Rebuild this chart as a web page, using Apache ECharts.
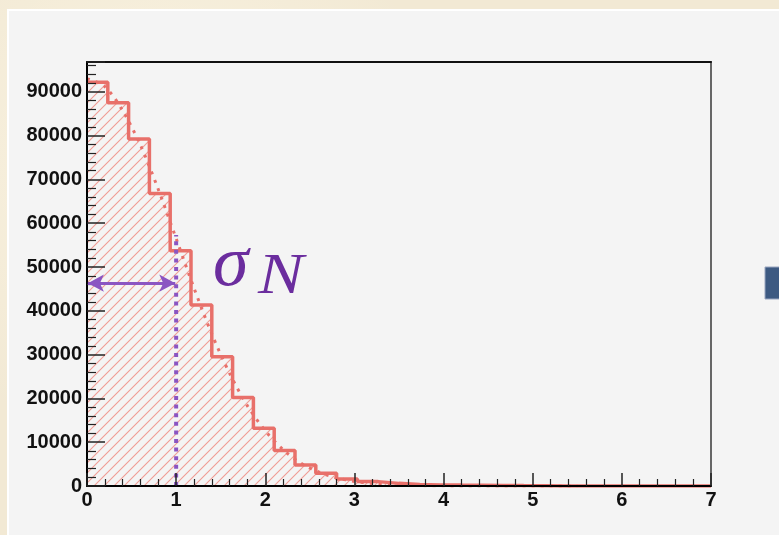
<!DOCTYPE html>
<html>
<head>
<meta charset="utf-8">
<script src="https://cdn.jsdelivr.net/npm/echarts@6/dist/echarts.min.js"></script>
<style>
  html, body { margin: 0; padding: 0; }
  body {
    width: 779px; height: 535px; overflow: hidden;
    background-color: #f2e9d4;
    background-image:
      radial-gradient(circle at 20% 30%, rgba(255,250,235,0.6) 0, rgba(255,250,235,0) 40%),
      radial-gradient(circle at 70% 80%, rgba(230,218,190,0.5) 0, rgba(230,218,190,0) 45%);
  }
  #chart { position: absolute; left: 0; top: 0; width: 779px; height: 535px; }
</style>
</head>
<body>
<div id="chart"></div>
<script>
// Histogram of |x| with 30 bins over [0, 7]
const binLow = 0;
const binHigh = 7;
const binCounts = [
  92200, 87500, 79200, 66800, 53700, 41300, 29500, 20200, 13200, 8100,
  4800, 2900, 1600, 1000, 600, 350, 250, 200, 160, 130,
  100, 80, 0, 0, 0, 0, 0, 0, 0, 0
];

// Fitted half-Gaussian, sampled along x
const fitX = [0, 0.2, 0.4, 0.6, 0.8, 1.0, 1.2, 1.4, 1.6, 1.8, 2.0, 2.2, 2.4, 2.6, 2.8,
              3.0, 3.2, 3.4, 3.6, 3.8, 4.0, 4.4, 4.8, 5.2, 5.5];
const fitY = [93000, 91200, 85700, 77800, 67700, 56500, 45200, 34700, 25700, 18300,
              12600, 8300, 5200, 3200, 1850, 1050, 560, 290, 140, 70, 30, 10, 0, 0, 0];

// Width marker: sigma at x = 1, arrow height
const sigmaX = 1;
const sigmaTop = 57300;
const arrowY = 46300;

const yTicks = [0, 10000, 20000, 30000, 40000, 50000, 60000, 70000, 80000, 90000];
const yMax = 96800;

// build the step-histogram points (left edge of each bin + closing point)
const binWidth = (binHigh - binLow) / binCounts.length;
const histPoints = binCounts.map((v, i) => [binLow + i * binWidth, v]);
histPoints.push([binHigh, binCounts[binCounts.length - 1]]);
const fitPoints = fitX.map((x, i) => [x, fitY[i]]);

// opaque diagonal hatch tile for the histogram fill
function hatchTile() {
  const c = document.createElement('canvas');
  c.width = 10; c.height = 10;
  const g = c.getContext('2d');
  g.fillStyle = '#f4f4f4';
  g.fillRect(0, 0, 10, 10);
  g.strokeStyle = '#f09c94';
  g.lineWidth = 1.1;
  g.beginPath();
  g.moveTo(-1, 11); g.lineTo(11, -1);
  g.moveTo(-6, 6); g.lineTo(6, -6);
  g.moveTo(4, 16); g.lineTo(16, 4);
  g.stroke();
  return c;
}

const red = '#e8706a';
const purple = '#8a55c2';
const labelFont = { fontFamily: 'Liberation Sans, Arial, sans-serif', fontWeight: 'bold', fontSize: 20, color: '#111' };

const chart = echarts.init(document.getElementById('chart'), null, { renderer: 'canvas' });
chart.setOption({
  animation: false,
  backgroundColor: 'transparent',
  grid: { left: 87, right: 68, top: 62, bottom: 49, containLabel: false },
  graphic: [
    { type: 'rect', z: -10, silent: true,
      shape: { x: 8, y: 10, width: 900, height: 700 },
      style: { fill: '#f4f4f4', stroke: '#ffffff', lineWidth: 2 } },
    { type: 'rect', z: -5, silent: true,
      shape: { x: 765, y: 267, width: 20, height: 32 },
      style: { fill: '#3d5a82', stroke: '#9aa6c0', lineWidth: 1 } },
    { type: 'text', z: 20, left: 213, top: 230,
      style: { text: 'σ', font: 'italic 72px "Liberation Serif", "DejaVu Serif", serif', fill: '#6b2d9e' } },
    { type: 'text', z: 20, x: 258, y: 249, scaleX: 1.18,
      style: { text: 'N', font: 'italic 58px "Liberation Serif", "DejaVu Serif", serif', fill: '#6b2d9e' } }
  ],
  xAxis: [
    {
      type: 'value', min: binLow, max: binHigh, interval: 1, z: 10,
      axisLine: { onZero: false, lineStyle: { color: '#000', width: 2 } },
      axisTick: { inside: true, length: 13, lineStyle: { color: '#222', width: 1.5 } },
      minorTick: { show: true, splitNumber: 5, length: 7, lineStyle: { color: '#222', width: 1.2 } },
      splitLine: { show: false },
      axisLabel: Object.assign({ margin: 4 }, labelFont)
    },
    {
      type: 'value', position: 'top', min: binLow, max: binHigh, z: 10,
      axisLine: { show: true, onZero: false, lineStyle: { color: '#111', width: 2 } },
      axisTick: { show: false }, axisLabel: { show: false }, splitLine: { show: false }
    }
  ],
  yAxis: [
    {
      type: 'value', min: 0, max: yMax, interval: 10000, z: 10,
      axisLine: { show: true, onZero: false, lineStyle: { color: '#000', width: 2 } },
      axisTick: { inside: true, length: 18, lineStyle: { color: '#222', width: 1.5 } },
      minorTick: { show: true, splitNumber: 5, length: 9, lineStyle: { color: '#222', width: 1.2 } },
      splitLine: { show: false },
      axisLabel: Object.assign({ margin: 5, showMaxLabel: false,
        formatter: v => (yTicks.indexOf(v) >= 0 ? String(v) : '') }, labelFont)
    },
    {
      type: 'value', position: 'right', min: 0, max: yMax, z: 10,
      axisLine: { show: true, onZero: false, lineStyle: { color: '#666', width: 2 } },
      axisTick: { show: false }, axisLabel: { show: false }, splitLine: { show: false }
    }
  ],
  series: [
    {
      type: 'line', step: 'end', data: histPoints, symbol: 'none', z: 3,
      lineStyle: { color: red, width: 3.5 },
      itemStyle: { color: red },
      areaStyle: { color: { image: hatchTile(), repeat: 'repeat' }, opacity: 1 }
    },
    {
      type: 'line', data: fitPoints, symbol: 'none', smooth: 0.3, z: 4,
      lineStyle: { color: red, width: 3, type: [3, 6], cap: 'butt' }
    },
    {
      type: 'line', data: [[sigmaX, 0], [sigmaX, sigmaTop]], symbol: 'none', z: 5,
      lineStyle: { color: purple, width: 4, type: [4, 4.6], cap: 'butt' }
    },
    {
      type: 'line', data: [], z: 12,
      markLine: {
        silent: true, animation: false, z: 12,
        symbol: ['arrow', 'arrow'], symbolSize: [13, 16],
        label: { show: false },
        lineStyle: { color: purple, width: 3, type: 'solid' },
        emphasis: { disabled: true },
        data: [[{ coord: [0.01, arrowY] }, { coord: [sigmaX - 0.01, arrowY] }]]
      }
    }
  ]
});
</script>
</body>
</html>
